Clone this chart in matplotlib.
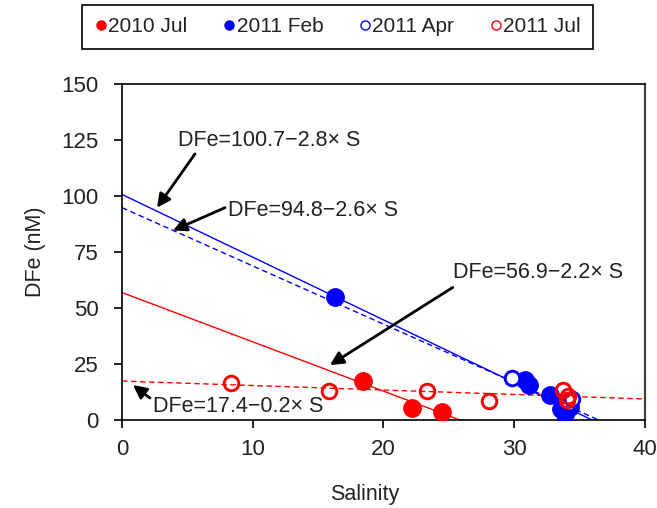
import matplotlib.pyplot as plt
import numpy as np
from matplotlib.lines import Line2D

plt.rcParams['font.family'] = ['Liberation Sans', 'DejaVu Sans']

# Samples: salinity vs dissolved iron
jul10_s = [18.4, 22.2, 24.5]
jul10_fe = [17.2, 5.2, 3.8]

feb11_s = [16.3, 30.8, 31.1, 32.7, 33.6, 33.9, 34.3, 34.0]
feb11_fe = [55.0, 17.8, 15.8, 11.1, 4.8, 2.5, 6.0, 8.5]

apr11_s = [29.8, 34.2, 34.4]
apr11_fe = [18.6, 7.5, 9.5]

jul11_s = [8.3, 15.8, 23.3, 28.1, 33.7, 34.0, 34.1]
jul11_fe = [16.6, 12.8, 12.9, 8.7, 13.2, 9.0, 10.5]

# Fitted lines DFe = a - b*S
fit_a = [56.9, 100.7, 94.8, 17.4]
fit_b = [2.2, 2.8, 2.6, 0.2]

RED = '#FF0000'
BLUE = '#0000FF'
TXT = '#222222'

fig = plt.figure(figsize=(6.57, 5.08), dpi=100)
ax = fig.add_axes([0.1857, 0.1732, 0.7960, 0.6614])

# regression lines, cut where they reach zero (or the axis end)
styles = [(RED, '-'), (BLUE, '-'), (BLUE, '--'), (RED, '--')]
for a, b, (c, ls) in zip(fit_a, fit_b, styles):
    s_end = min(a / b, 40)
    s = np.array([0, s_end])
    line, = ax.plot(s, a - b * s, color=c, lw=1.0, zorder=2)
    if ls == '--':
        line.set_dashes((4, 2.5))

ax.plot(jul10_s, jul10_fe, 'o', color=RED, ms=12.5, zorder=3)
ax.plot(feb11_s, feb11_fe, 'o', color=BLUE, ms=12.5, zorder=3)
ax.plot(apr11_s, apr11_fe, 'o', mfc='white', mec=BLUE, mew=2.1, ms=10.5, zorder=4)
ax.plot(jul11_s, jul11_fe, 'o', mfc='none', mec=RED, mew=2.1, ms=10.5, zorder=5)

# equations and arrows
labels = ['DFe=100.7\u22122.8\u00d7 S', 'DFe=94.8\u22122.6\u00d7 S',
          'DFe=56.9\u22122.2\u00d7 S', 'DFe=17.4\u22120.2\u00d7 S']
text_pos = [(4.28, 124.6), (8.1, 93.7), (25.3, 66.0), (2.37, 5.9)]
arrow_from = [(5.58, 118.8), (7.88, 94.8), (25.3, 59.2), (2.14, 9.8)]
arrow_to = [(2.68, 94.8), (3.9, 84.6), (15.9, 24.5), (0.84, 15.6)]
for lab, tp, af, at in zip(labels, text_pos, arrow_from, arrow_to):
    ax.text(tp[0], tp[1], lab, fontsize=15.5, color=TXT, ha='left', va='center', zorder=6)
    ax.annotate('', xy=at, xytext=af,
                arrowprops=dict(arrowstyle='-|>', color='black', lw=2.0, mutation_scale=20,
                                shrinkA=0, shrinkB=0), zorder=6)

ax.set_xlim(0, 40)
ax.set_ylim(0, 150)
ax.set_xticks(np.arange(0, 41, 10))
ax.set_yticks(np.arange(0, 151, 25))
ax.tick_params(axis='both', direction='out', length=6, width=1.2, labelsize=16,
               colors='black', labelcolor=TXT)
ax.tick_params(axis='x', pad=8)
ax.tick_params(axis='y', pad=11)
ax.set_xlabel('Salinity', fontsize=15.5, labelpad=13, color=TXT)
ax.xaxis.set_label_coords(0.465, -0.19)
ax.set_ylabel('DFe (nM)', fontsize=15.5, labelpad=11, color=TXT)
for side in ['left', 'bottom', 'top']:
    ax.spines[side].set_linewidth(1.2)
ax.spines['right'].set_color('#404040')
ax.spines['right'].set_linewidth(1.6)

handles = [
    Line2D([], [], ls='none', marker='o', color=RED, ms=6.5),
    Line2D([], [], ls='none', marker='o', color=BLUE, ms=6.5),
    Line2D([], [], ls='none', marker='o', mfc='none', mec=BLUE, mew=1, ms=6.5),
    Line2D([], [], ls='none', marker='o', mfc='none', mec=RED, mew=1, ms=6.5),
]
leg = fig.legend(handles, ['2010 Jul', '2011 Feb', '2011 Apr', '2011 Jul'],
                 loc='center', bbox_to_anchor=(0.514, 0.947), ncol=4, fontsize=15,
                 handlelength=0.6, handletextpad=0.05, columnspacing=1.7,
                 borderpad=0.6, frameon=True, fancybox=False, framealpha=1,
                 labelcolor=TXT)
leg.get_frame().set_edgecolor('black')
leg.get_frame().set_linewidth(1.2)

fig.savefig('out.png', dpi=100)
